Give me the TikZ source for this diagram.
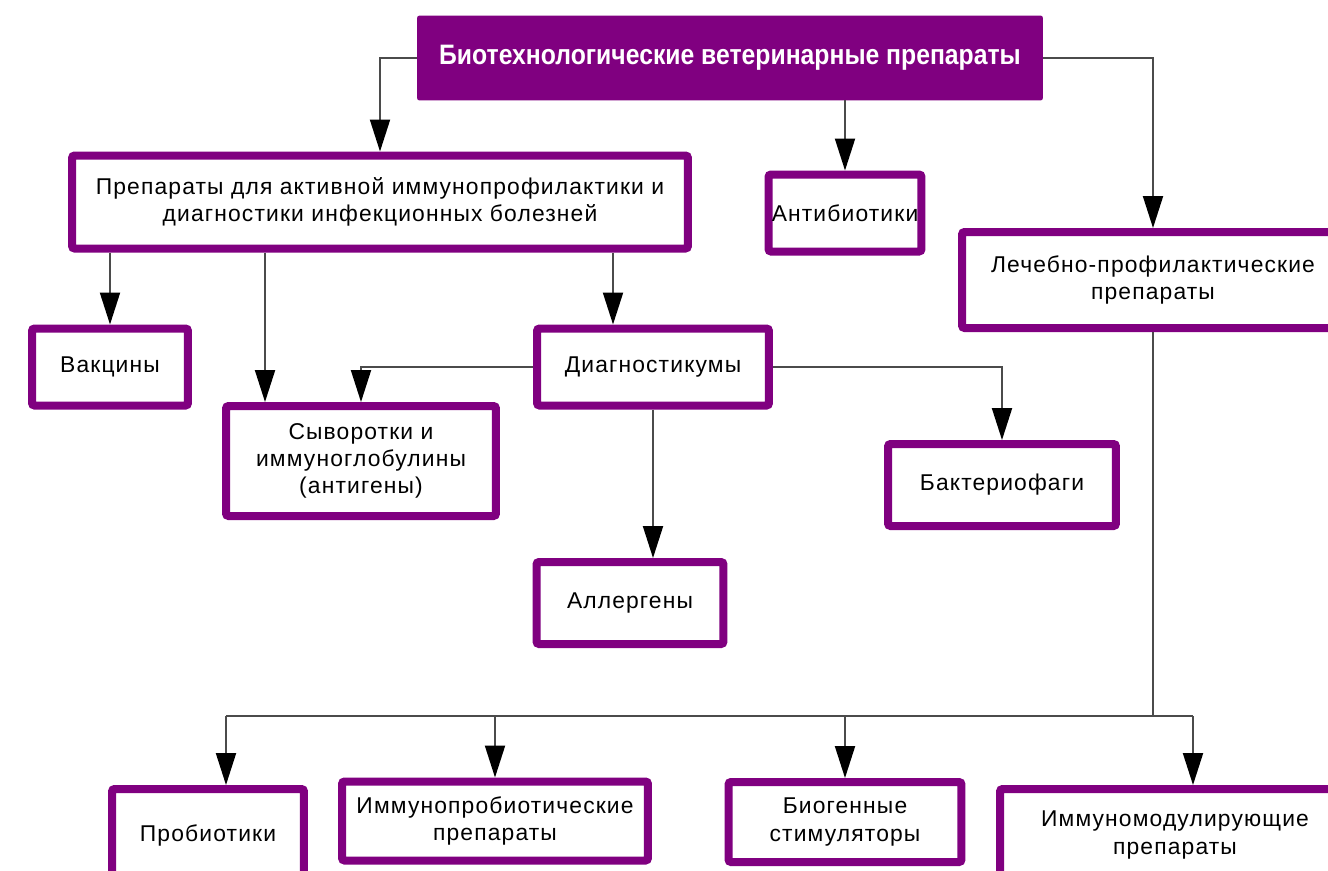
\documentclass[tikz,border=0pt]{standalone}
\usepackage{fontspec}
\setmainfont{Liberation Sans}[LetterSpace=5]
\newfontfamily\titlefont{Liberation Sans}[FakeStretch=0.88]
\usetikzlibrary{arrows.meta}
\definecolor{plum}{RGB}{128,0,128}
\definecolor{wire}{RGB}{75,75,75}

\begin{document}
\begin{tikzpicture}[x=0.02cm, y=-0.02cm,
  box/.style={draw=plum, line width=0.16cm, rounded corners=0.05cm, fill=white,
    align=center, inner sep=0pt, font=\fontsize{13}{15.5}\selectfont},
  link/.style={draw=wire, line width=0.04cm},
  conn/.style={link, -{Triangle[length=0.64cm, width=0.4cm, color=black, fill=black]}}]
\useasboundingbox (0,0) rectangle (1328,870);
\clip (0,0) rectangle (1328,870);

% boxes
\node[box, draw=none, outer sep=0pt, fill=plum, text=white, minimum width=12.52cm, minimum height=1.7cm,
  font=\titlefont\bfseries\fontsize{16}{18}\selectfont] (root) at (730,58) {Биотехнологические ветеринарные препараты};
\node[box, minimum width=12.32cm, minimum height=1.86cm] (prep) at (380,202) {Препараты для активной иммунопрофилактики и\\диагностики инфекционных болезней};
\node[box, minimum width=3.06cm, minimum height=1.54cm] (anti) at (845,213) {Антибиотики};
\node[box, minimum width=7.64cm, minimum height=1.92cm] (lech) at (1153,280) {Лечебно-профилактические\\препараты};
\node[box, minimum width=3.12cm, minimum height=1.54cm] (vac) at (110,367) {Вакцины};
\node[box, minimum width=4.64cm, minimum height=1.54cm] (diag) at (653,367) {Диагностикумы};
\node[box, minimum width=5.4cm, minimum height=2.2cm] (syv) at (361,461) {Сыворотки и\\иммуноглобулины\\(антигены)};
\node[box, minimum width=4.56cm, minimum height=1.64cm] (bact) at (1002,485) {Бактериофаги};
\node[box, minimum width=3.74cm, minimum height=1.64cm] (allerg) at (630,603) {Аллергены};
\node[box, minimum width=3.84cm, minimum height=1.84cm] (prob) at (208,835) {Пробиотики};
\node[box, minimum width=6.12cm, minimum height=1.58cm] (improb) at (495,821) {Иммунопробиотические\\препараты};
\node[box, minimum width=4.66cm, minimum height=1.6cm] (biog) at (845,822) {Биогенные\\стимуляторы};
\node[box, minimum width=7cm, minimum height=1.84cm] (immod) at (1175,835) {Иммуномодулирующие\\препараты};

% helper points
\coordinate (s1) at ([xshift=0.86cm]syv.north west);
\coordinate (d1) at ([xshift=-0.8cm]diag.north);
\coordinate (bus) at (0,716);
\coordinate (p1) at ([xshift=0.36cm]prob.north);
\coordinate (m1) at ([xshift=0.36cm]immod.north);

% connectors
\draw[conn] (root.west) -| (prep.north);
\draw[conn] (anti.north |- root.south) -- (anti.north);
\draw[conn] (root.east) -| (lech.north);
\draw[conn] (vac.north |- prep.south) -- (vac.north);
\draw[conn] (s1 |- prep.south) -- (s1);
\draw[conn] (d1 |- prep.south) -- (d1);
\draw[conn] (diag.west) -| (syv.north);
\draw[conn] (diag.east) -| (bact.north);
\draw[conn] (diag.south) -- (diag.south |- allerg.north);
\draw[link] (lech.south) -- (lech.south |- bus);
\draw[link] (p1 |- bus) -- (m1 |- bus);
\draw[conn] (p1 |- bus) -- (p1);
\draw[conn] (improb.north |- bus) -- (improb.north);
\draw[conn] (biog.north |- bus) -- (biog.north);
\draw[conn] (m1 |- bus) -- (m1);
\end{tikzpicture}
\end{document}
